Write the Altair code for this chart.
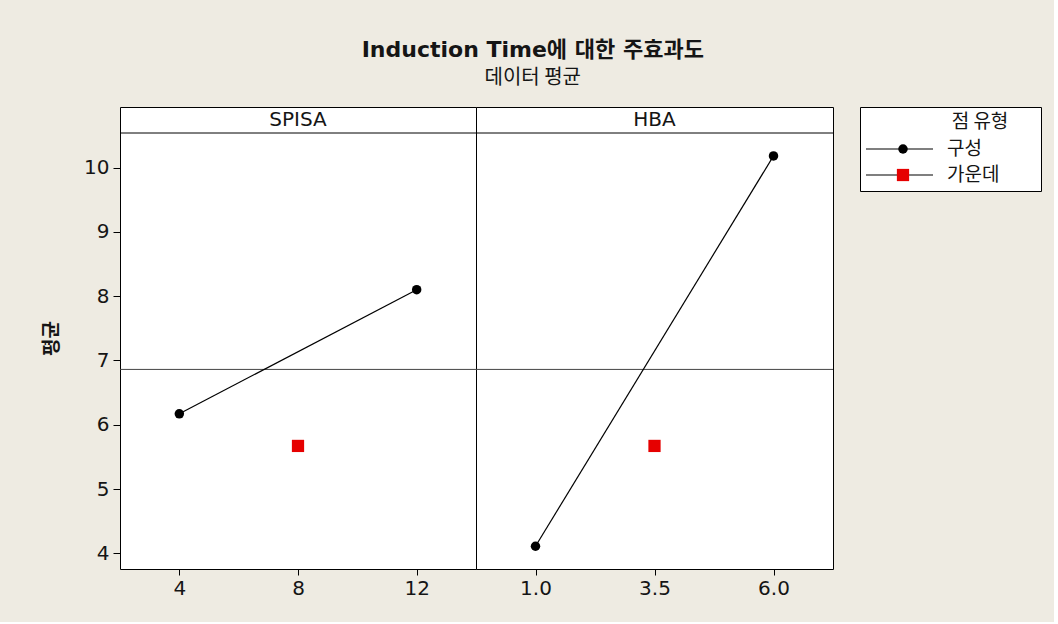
import altair as alt
import pandas as pd

# ---- data ----
factors = ["SPISA", "HBA"]
spisa_levels = ["4", "8", "12"]
hba_levels = ["1.0", "3.5", "6.0"]
spisa_corner_means = [6.17, 8.10]   # at 4 and 12
hba_corner_means = [4.11, 10.18]    # at 1.0 and 6.0
center_means = [5.67, 5.67]         # SPISA=8, HBA=3.5
grand_mean = [6.86]
series_names = ["구성", "가운데"]
y_ticks = [4, 5, 6, 7, 8, 9, 10]
legend_title = ["점 유형"]

LAT = "DejaVu Sans, Noto Sans CJK KR"
KR = "Noto Sans CJK KR"
Y_DOMAIN = [3.756, 10.941]
PANEL_H = 462
HEADER_H = 26
TXT = "#151515"


def panel(idx, levels, corner_vals, width, show_y):
    name = factors[idx]
    corner = pd.DataFrame({"level": [levels[0], levels[2]], "mean": corner_vals})
    center = pd.DataFrame({"level": [levels[1]], "mean": [center_means[idx]]})
    ref = pd.DataFrame({"mean": grand_mean})
    head = pd.DataFrame({"h": [name]})

    x = alt.X("level:O",
              scale=alt.Scale(type="point", padding=0.5, domain=levels),
              axis=alt.Axis(title=None, labelAngle=0, labelFontSize=20, labelFont=LAT,
                            tickSize=6, tickColor="black", labelColor=TXT,
                            domain=False, labelPadding=3))
    if show_y:
        yaxis = alt.Axis(values=y_ticks, title="평균", titleFont=KR, titleFontSize=19,
                         titleFontWeight="bold", titleColor=TXT, labelFontSize=20,
                         labelFont=LAT, labelColor=TXT, tickSize=7, tickColor="black",
                         domain=False, grid=False, labelPadding=4, titlePadding=22)
    else:
        yaxis = None
    y = alt.Y("mean:Q", scale=alt.Scale(domain=Y_DOMAIN, nice=False, zero=False),
              axis=yaxis)

    base_line = alt.Chart(corner).mark_line(color="black", strokeWidth=1.2).encode(x=x, y=y)
    pts = alt.Chart(corner).mark_point(filled=True, shape="circle", size=90,
                                       color="black", opacity=1).encode(x=x, y=y)
    sq = alt.Chart(center).mark_point(filled=True, shape="square", size=150,
                                      color="#E60000", opacity=1).encode(x=x, y=y)
    refl = alt.Chart(ref).mark_rule(color="#444444", strokeWidth=1).encode(y=y)
    hline = alt.Chart(head).mark_rule(color="black", strokeWidth=1).encode(
        x=alt.value(0), x2=alt.value(width), y=alt.value(HEADER_H))
    htext = alt.Chart(head).mark_text(fontSize=20, font=LAT, color=TXT,
                                      baseline="middle", align="center").encode(
        x=alt.value(width / 2), y=alt.value(13), text="h:N")
    return alt.layer(refl, base_line, pts, sq, hline, htext).properties(
        width=width, height=PANEL_H)


p1 = panel(0, spisa_levels, spisa_corner_means, 356, True)
p2 = panel(1, hba_levels, hba_corner_means, 357, False)

# ---- legend box ----
leg = pd.DataFrame({"type": series_names})
leg_corner = pd.DataFrame({"type": [series_names[0]]})
leg_center = pd.DataFrame({"type": [series_names[1]]})
ly = alt.Y("type:N", scale=alt.Scale(domain=series_names, range=[29, 81]), axis=None)
leg_rule = alt.Chart(leg).mark_rule(color="black", strokeWidth=1.2).encode(
    x=alt.value(6), x2=alt.value(73), y=ly)
leg_pt1 = alt.Chart(leg_corner).mark_point(filled=True, opacity=1, shape="circle",
                                           size=90, color="black").encode(
    x=alt.value(43), y=ly)
leg_pt2 = alt.Chart(leg_center).mark_point(filled=True, opacity=1, shape="square",
                                           size=150, color="#E60000").encode(
    x=alt.value(43), y=ly)
leg_txt = alt.Chart(leg).mark_text(align="left", baseline="middle", fontSize=19,
                                   font=KR, color=TXT).encode(
    x=alt.value(87), y=ly, text="type:N")
leg_ttl = alt.Chart(pd.DataFrame({"t": legend_title})).mark_text(
    align="center", baseline="middle", fontSize=19, font=KR, color=TXT).encode(
    x=alt.value(120), y=alt.value(15), text="t:N")
legend_box = alt.layer(leg_rule, leg_pt1, leg_pt2, leg_txt, leg_ttl).properties(
    width=181, height=84)

panels = alt.hconcat(p1, p2, spacing=0, bounds="flush").resolve_scale(
    y="independent", x="independent")

chart = alt.hconcat(
    panels,
    legend_box,
    spacing=25,
).resolve_scale(y="independent").properties(
    title=alt.TitleParams(text="Induction Time에 대한 주효과도", subtitle="데이터 평균",
                          font=LAT, fontSize=22, fontWeight="bold", color=TXT,
                          subtitleFont=KR, subtitleFontSize=20, subtitleColor=TXT,
                          subtitlePadding=6, anchor="middle", offset=18, dx=-9),
    padding={"left": 42, "top": 38, "right": 12, "bottom": 23},
).configure(background="#EEEBE2").configure_view(
    stroke="black", strokeWidth=1, fill="white")

chart.save("out.html", embed_options={"renderer": "svg", "actions": False})
